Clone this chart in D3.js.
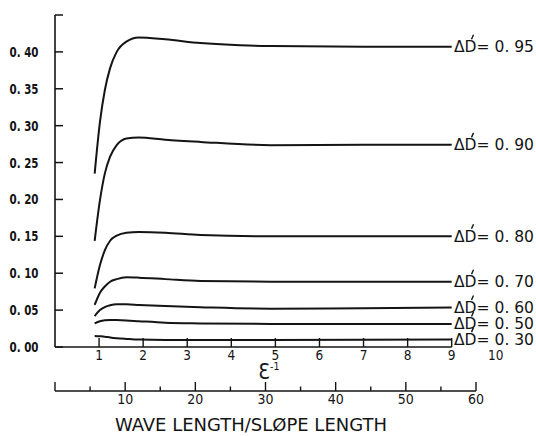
<!DOCTYPE html>
<html><head><meta charset="utf-8">
<script src="https://cdn.jsdelivr.net/npm/d3@7/dist/d3.min.js"></script>
<style>body{margin:0;background:#fff}svg{display:block}</style>
</head><body>
<svg id="c" width="536" height="436"></svg>
<script>
// ---- data ----
const yTicks = [0, 0.05, 0.10, 0.15, 0.20, 0.25, 0.30, 0.35, 0.40];
const yTickLabels = ["0. 00","0. 05","0. 10","0. 15","0. 20","0. 25","0. 30","0. 35","0. 40"];
const xTicks = [1,2,3,4,5,6,7,8,9];
const xTickLabelValues = [1,2,3,4,5,6,7,8,9,10];
const xTickLabels = ["1","2","3","4","5","6","7","8","9","10"];
const wlMajor = [10,20,30,40,50,60];
const wlMinor = [5,15,25,35,45,55];
const wlLabels = ["10","20","30","40","50","60"];
const epsInv = [0.9, 1.02, 1.13, 1.25, 1.40, 1.62, 1.9, 2.5, 3.3, 4.9, 7, 9];
const seriesNames = ["0. 95","0. 90","0. 80","0. 70","0. 60","0. 50","0. 30"];
const s095 = [0.235, 0.305, 0.348, 0.378, 0.400, 0.414, 0.4195, 0.417, 0.412, 0.408, 0.407, 0.407];
const s090 = [0.144, 0.199, 0.235, 0.258, 0.2736, 0.2827, 0.284, 0.281, 0.278, 0.2736, 0.274, 0.274];
const s080 = [0.0795, 0.111, 0.131, 0.144, 0.151, 0.155, 0.156, 0.155, 0.1517, 0.150, 0.150, 0.150];
const s070 = [0.057, 0.0736, 0.082, 0.0885, 0.092, 0.0944, 0.094, 0.092, 0.0894, 0.0885, 0.0885, 0.0885];
const s060 = [0.042, 0.050, 0.054, 0.0565, 0.0578, 0.0578, 0.057, 0.0555, 0.054, 0.052, 0.0525, 0.0535];
const s050 = [0.032, 0.035, 0.0362, 0.0366, 0.0365, 0.036, 0.035, 0.033, 0.032, 0.0312, 0.0312, 0.0312];
const s030 = [0.0149, 0.0145, 0.014, 0.013, 0.012, 0.011, 0.0100, 0.0095, 0.0095, 0.0095, 0.0098, 0.0100];
const seriesValues = [s095, s090, s080, s070, s060, s050, s030];

// ---- scales ----
const x = d3.scaleLinear().domain([0, 9]).range([55, 451.7]);
const y = d3.scaleLinear().domain([0, 0.45]).range([347, 15]);
const w = d3.scaleLinear().domain([0, 60]).range([55, 476]);

const svg = d3.select("#c");
const ink = "#141414";
const font = "'DejaVu Sans Condensed','DejaVu Sans',sans-serif";

// y axis
svg.append("line").attr("x1", x(0)).attr("x2", x(0)).attr("y1", y(0.45)).attr("y2", y(0))
  .attr("stroke", ink).attr("stroke-width", 1.6);
svg.selectAll(".yt").data(yTicks.concat([0.45])).enter().append("line")
  .attr("x1", x(0)).attr("x2", x(0) + 8).attr("y1", d => y(d)).attr("y2", d => y(d))
  .attr("stroke", ink).attr("stroke-width", 1.5);
svg.selectAll(".yl").data(yTicks).enter().append("text")
  .attr("x", 38.5).attr("y", d => y(d) + 5).attr("text-anchor", "end")
  .attr("font-family", font).attr("font-size", 13.5).attr("font-weight", "bold")
  .attr("textLength", 29).attr("lengthAdjust", "spacingAndGlyphs")
  .attr("fill", ink).text((d, i) => yTickLabels[i]);

// x axis (epsilon^-1)
svg.append("line").attr("x1", x(0)).attr("x2", x(9)).attr("y1", y(0)).attr("y2", y(0))
  .attr("stroke", ink).attr("stroke-width", 1.6);
svg.selectAll(".xt").data(xTicks).enter().append("line")
  .attr("x1", d => x(d)).attr("x2", d => x(d)).attr("y1", y(0)).attr("y2", y(0) - 9)
  .attr("stroke", ink).attr("stroke-width", 1.4);
svg.selectAll(".xl").data(xTickLabelValues).enter().append("text")
  .attr("x", d => x(d)).attr("y", 359.5).attr("text-anchor", "middle")
  .attr("font-family", font).attr("font-size", 13.5)
  .attr("fill", ink).text((d, i) => xTickLabels[i]);
svg.append("text").attr("x", 264).attr("y", 379).attr("text-anchor", "middle")
  .attr("font-family", font).attr("font-size", 21).attr("fill", ink).text("Ɛ");
svg.append("text").attr("x", 270).attr("y", 370).attr("font-family", font)
  .attr("font-size", 10.5).attr("fill", ink).text("-1");

// wave length / slope length axis
svg.append("line").attr("x1", w(0)).attr("x2", w(60)).attr("y1", 391).attr("y2", 391)
  .attr("stroke", ink).attr("stroke-width", 1.6);
svg.selectAll(".wM").data([0].concat(wlMajor)).enter().append("line")
  .attr("x1", d => w(d)).attr("x2", d => w(d)).attr("y1", 391).attr("y2", 382)
  .attr("stroke", ink).attr("stroke-width", 1.4);
svg.selectAll(".wm").data(wlMinor).enter().append("line")
  .attr("x1", d => w(d)).attr("x2", d => w(d)).attr("y1", 391).attr("y2", 386.5)
  .attr("stroke", ink).attr("stroke-width", 1.4);
svg.selectAll(".wl").data(wlMajor).enter().append("text")
  .attr("x", d => w(d)).attr("y", 403.5).attr("text-anchor", "middle")
  .attr("font-family", font).attr("font-size", 14)
  .attr("fill", ink).text((d, i) => wlLabels[i]);
svg.append("text").attr("x", 115).attr("y", 431)
  .attr("font-family", font).attr("font-size", 17)
  .attr("textLength", 272).attr("lengthAdjust", "spacingAndGlyphs")
  .attr("fill", ink).text("WAVE LENGTH/SLØPE LENGTH");

// curves
const line = d3.line().x(d => x(d[0])).y(d => y(d[1])).curve(d3.curveMonotoneX);
seriesValues.forEach((vals, k) => {
  const pts = epsInv.map((e, i) => [e, vals[i]]);
  svg.append("path").attr("d", line(pts)).attr("fill", "none")
    .attr("stroke", ink).attr("stroke-width", 2).attr("stroke-linejoin", "round");
  const ly = y(vals[vals.length - 1]) + 5.5;
  svg.append("text").attr("x", 454).attr("y", ly).attr("font-size", 16.5)
    .attr("font-family", font).attr("fill", ink)
    .attr("textLength", 80).attr("lengthAdjust", "spacingAndGlyphs")
    .text("ΔD= " + seriesNames[k]);
  // acute mark over the D
  svg.append("line").attr("x1", 471.5).attr("y1", ly - 13).attr("x2", 473.5).attr("y2", ly - 17.5)
    .attr("stroke", ink).attr("stroke-width", 1.4);
});
</script>
</body></html>
